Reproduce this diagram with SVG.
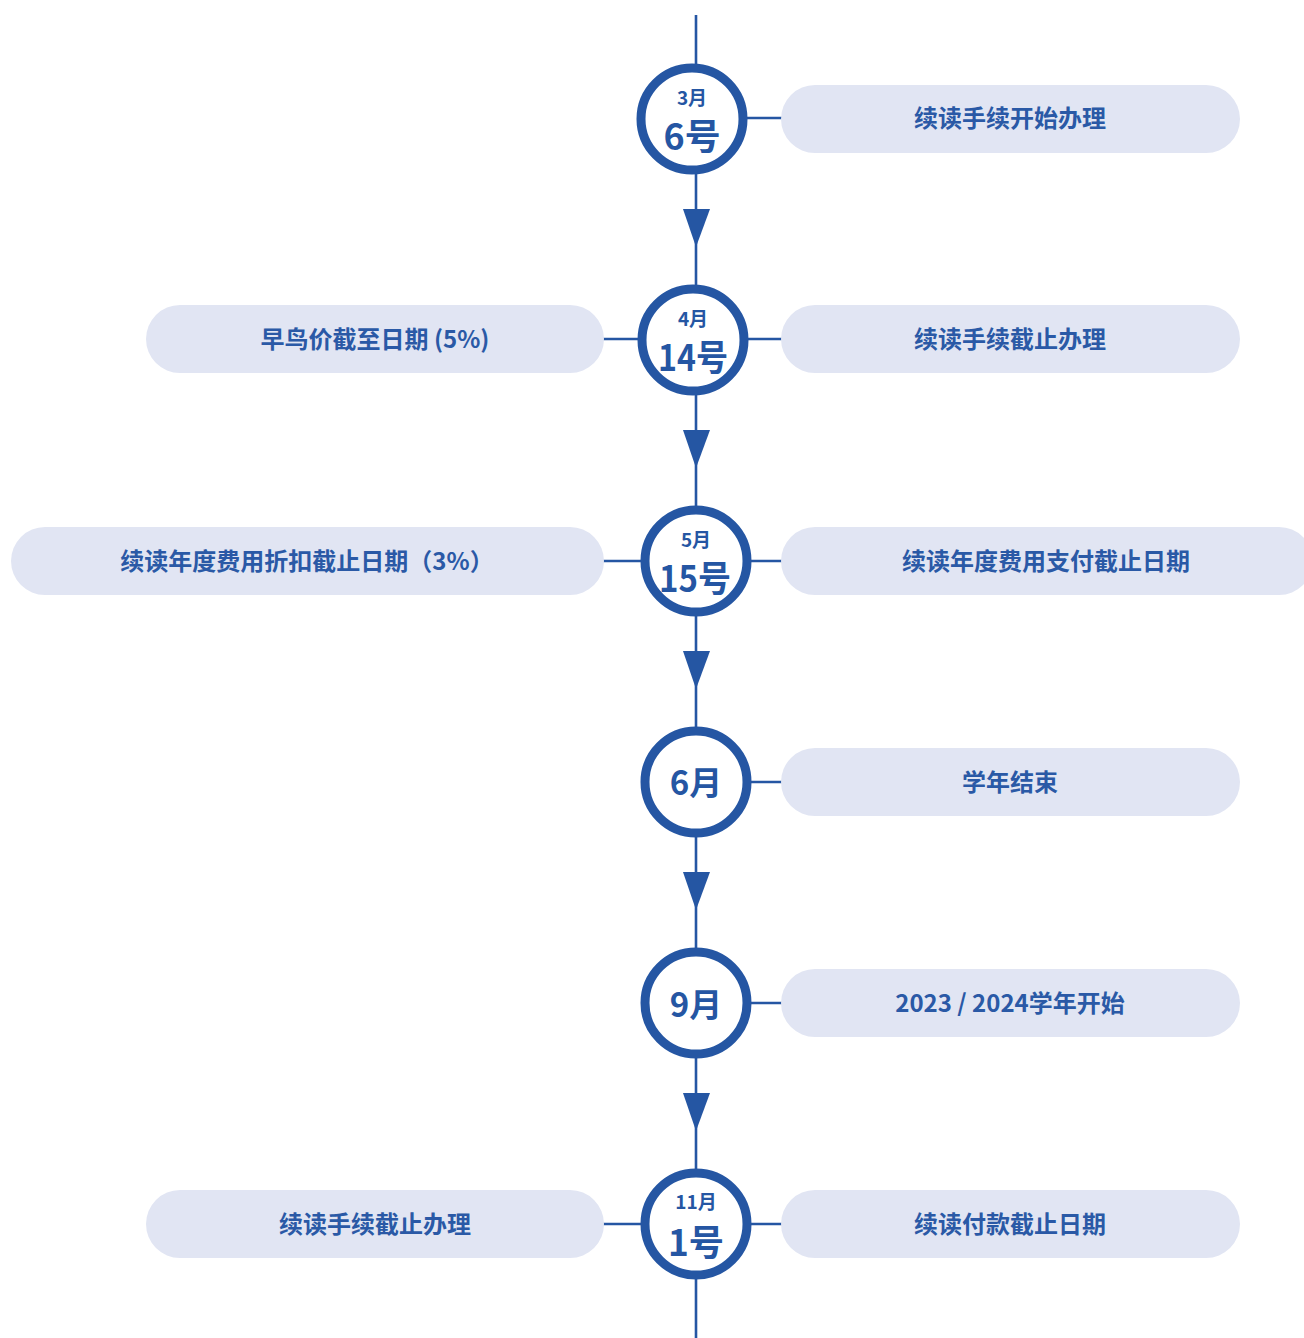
<svg xmlns="http://www.w3.org/2000/svg" width="1304" height="1338" viewBox="0 0 1304 1338">
<style>
.ln{stroke:#2556A3;stroke-width:2.6;fill:none}
.ar{fill:#2556A3}
.cir{fill:#fff;stroke:#2556A3;stroke-width:9}
.pill{fill:#E1E5F3}
.pt{font-family:"Noto Sans CJK SC","Noto Sans",sans-serif;font-size:24px;font-weight:600;fill:#2A59A6;text-anchor:middle;dominant-baseline:central}
.ms{font-family:"Noto Sans CJK SC","Noto Sans",sans-serif;font-size:19px;font-weight:700;fill:#2556A3;text-anchor:middle;dominant-baseline:central}
.dl{font-family:"Noto Sans CJK SC","Noto Sans",sans-serif;font-size:36px;font-weight:700;fill:#2556A3;text-anchor:middle;dominant-baseline:central}
.mo{font-family:"Noto Sans CJK SC","Noto Sans",sans-serif;font-size:33px;font-weight:700;fill:#2556A3;text-anchor:middle;dominant-baseline:central}
</style>
<g id="connectors">
<line class="ln" x1="696" y1="15" x2="696" y2="70"/>
<line class="ln" x1="696" y1="170" x2="696" y2="290"/>
<polygon class="ar" points="683,209 710,209 696,247"/>
<line class="ln" x1="696" y1="390" x2="696" y2="511"/>
<polygon class="ar" points="683,430 710,430 696,468"/>
<line class="ln" x1="696" y1="611" x2="696" y2="732"/>
<polygon class="ar" points="683,651 710,651 696,689"/>
<line class="ln" x1="696" y1="832" x2="696" y2="953"/>
<polygon class="ar" points="683,872 710,872 696,910"/>
<line class="ln" x1="696" y1="1053" x2="696" y2="1174"/>
<polygon class="ar" points="683,1093 710,1093 696,1131"/>
<line class="ln" x1="696" y1="1274" x2="696" y2="1338"/>
<line class="ln" x1="745" y1="118" x2="782" y2="118"/>
<line class="ln" x1="603" y1="339" x2="640" y2="339"/>
<line class="ln" x1="745" y1="339" x2="782" y2="339"/>
<line class="ln" x1="603" y1="561" x2="643" y2="561"/>
<line class="ln" x1="749" y1="561" x2="782" y2="561"/>
<line class="ln" x1="749" y1="782" x2="782" y2="782"/>
<line class="ln" x1="749" y1="1003" x2="782" y2="1003"/>
<line class="ln" x1="603" y1="1224" x2="643" y2="1224"/>
<line class="ln" x1="749" y1="1224" x2="782" y2="1224"/>
</g>
<g id="n1">
<circle class="cir" cx="692" cy="119" r="51"/>
<text class="ms" x="692" y="96">3月</text>
<text class="dl" x="692" y="134" textLength="57" lengthAdjust="spacingAndGlyphs">6号</text>
</g>
<g id="p1"><rect class="pill" x="781" y="85" width="459" height="68" rx="34"/><text class="pt" x="1010" y="116">续读手续开始办理</text></g>
<g id="n2">
<circle class="cir" cx="693" cy="340" r="51"/>
<text class="ms" x="693" y="317">4月</text>
<text class="dl" x="693" y="355" textLength="70" lengthAdjust="spacingAndGlyphs">14号</text>
</g>
<g id="p2l"><rect class="pill" x="146" y="305" width="458" height="68" rx="34"/><text class="pt" x="375" y="337">早鸟价截至日期 (5%)</text></g>
<g id="p2r"><rect class="pill" x="781" y="305" width="459" height="68" rx="34"/><text class="pt" x="1010" y="337">续读手续截止办理</text></g>
<g id="n3">
<circle class="cir" cx="696" cy="561" r="51"/>
<text class="ms" x="696" y="538">5月</text>
<text class="dl" x="695" y="576" textLength="72" lengthAdjust="spacingAndGlyphs">15号</text>
</g>
<g id="p3l"><rect class="pill" x="11" y="527" width="593" height="68" rx="34"/><text class="pt" x="307" y="559">续读年度费用折扣截止日期（3%）</text></g>
<g id="p3r"><rect class="pill" x="781" y="527" width="532" height="68" rx="34"/><text class="pt" x="1046" y="559">续读年度费用支付截止日期</text></g>
<g id="n4">
<circle class="cir" cx="696" cy="782" r="51"/>
<text class="mo" x="696" y="781">6月</text>
</g>
<g id="p4"><rect class="pill" x="781" y="748" width="459" height="68" rx="34"/><text class="pt" x="1010" y="780">学年结束</text></g>
<g id="n5">
<circle class="cir" cx="696" cy="1003" r="51"/>
<text class="mo" x="696" y="1003">9月</text>
</g>
<g id="p5"><rect class="pill" x="781" y="969" width="459" height="68" rx="34"/><text class="pt" x="1010" y="1001">2023 / 2024学年开始</text></g>
<g id="n6">
<circle class="cir" cx="696" cy="1224" r="51"/>
<text class="ms" x="696" y="1200">11月</text>
<text class="dl" x="696" y="1240" textLength="56" lengthAdjust="spacingAndGlyphs">1号</text>
</g>
<g id="p6l"><rect class="pill" x="146" y="1190" width="458" height="68" rx="34"/><text class="pt" x="375" y="1222">续读手续截止办理</text></g>
<g id="p6r"><rect class="pill" x="781" y="1190" width="459" height="68" rx="34"/><text class="pt" x="1010" y="1222">续读付款截止日期</text></g>
</svg>
